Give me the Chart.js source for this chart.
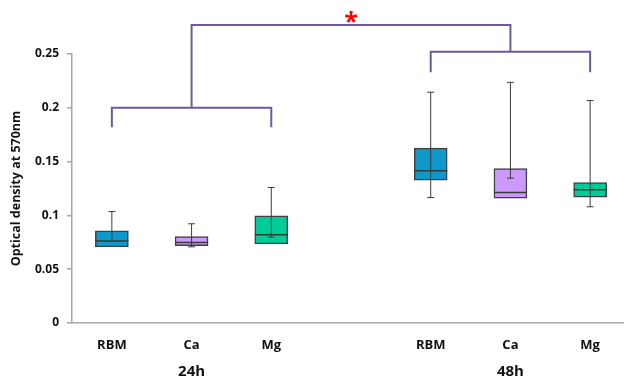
<!DOCTYPE html>
<html>
<head>
<meta charset="utf-8">
<script src="https://cdn.jsdelivr.net/npm/chart.js@4"></script>
<style>
  html, body { margin: 0; padding: 0; background: #fff; overflow: hidden; }
  #wrap { width: 624px; height: 379px; overflow: hidden; }
</style>
</head>
<body>
<div id="wrap"><canvas id="myChart" width="630" height="379"></canvas></div>
<script>
// Data
const categories = ['RBM', 'Ca', 'Mg', '', 'RBM', 'Ca', 'Mg'];
const groupLabels = ['24h', '48h'];
const groupCenters = [1, 5];           // category index under which each group label sits
const boxLow = [0.0708, 0.0718, 0.0736, null, 0.1328, 0.1160, 0.1170];
const boxHigh = [0.0857, 0.0804, 0.0996, null, 0.1625, 0.1436, 0.1306];
const medians = [0.0761, 0.0748, 0.0820, null, 0.1414, 0.1213, 0.1238];
const whiskerLow = [0.0758, 0.0708, 0.0798, null, 0.1166, 0.1346, 0.1080];
const whiskerHigh = [0.1036, 0.0922, 0.1259, null, 0.2145, 0.2237, 0.2067];
const boxColors = ['#0f98cb', '#cc99ff', '#00cc99', null, '#0f98cb', '#cc99ff', '#00cc99'];
const yTickValues = [0, 0.05, 0.1, 0.15, 0.2, 0.25];

// significance brackets: from/to category index, bar height, leg ends
const brackets = [
  { from: 0, to: 2, y: 0.200, legFrom: 0.182, legTo: 0.182 },
  { from: 4, to: 6, y: 0.252, legFrom: 0.233, legTo: 0.233 },
  { from: 1, to: 5, y: 0.277, legFrom: 0.200, legTo: 0.252 }
];
const starLabel = { text: '*', at: 3, y: 0.277 };

const boxData = boxLow.map((lo, i) => (lo === null ? null : [lo, boxHigh[i]]));

// draws medians and whiskers on top of the floating bars
const boxExtras = {
  id: 'boxExtras',
  afterDatasetsDraw(chart) {
    const ctx = chart.ctx;
    const y = chart.scales.y;
    const meta = chart.getDatasetMeta(0);
    ctx.save();
    meta.data.forEach((bar, i) => {
      if (medians[i] === null) return;
      const half = bar.width / 2;
      // median
      ctx.strokeStyle = '#383838';
      ctx.lineWidth = 1.5;
      ctx.beginPath();
      ctx.moveTo(bar.x - half, y.getPixelForValue(medians[i]));
      ctx.lineTo(bar.x + half, y.getPixelForValue(medians[i]));
      ctx.stroke();
      // whisker
      const top = y.getPixelForValue(whiskerHigh[i]);
      const bot = y.getPixelForValue(whiskerLow[i]);
      ctx.strokeStyle = '#3c3c3c';
      ctx.lineWidth = 1;
      ctx.beginPath();
      ctx.moveTo(bar.x, top);
      ctx.lineTo(bar.x, bot);
      ctx.moveTo(bar.x - 3.5, top);
      ctx.lineTo(bar.x + 3.5, top);
      ctx.moveTo(bar.x - 3.5, bot);
      ctx.lineTo(bar.x + 3.5, bot);
      ctx.stroke();
    });
    ctx.restore();
  }
};

// brackets, star and group labels
const annotations = {
  id: 'annotations',
  afterDraw(chart) {
    const ctx = chart.ctx;
    const x = chart.scales.x;
    const y = chart.scales.y;
    ctx.save();
    ctx.strokeStyle = '#6f5a98';
    ctx.lineWidth = 2;
    brackets.forEach(b => {
      const x1 = x.getPixelForValue(b.from);
      const x2 = x.getPixelForValue(b.to);
      ctx.beginPath();
      ctx.moveTo(x1, y.getPixelForValue(b.legFrom));
      ctx.lineTo(x1, y.getPixelForValue(b.y));
      ctx.lineTo(x2, y.getPixelForValue(b.y));
      ctx.lineTo(x2, y.getPixelForValue(b.legTo));
      ctx.stroke();
    });
    ctx.fillStyle = '#ff0000';
    ctx.font = 'bold 25px "Open Sans"';
    ctx.textAlign = 'center';
    ctx.textBaseline = 'alphabetic';
    ctx.fillText(starLabel.text, x.getPixelForValue(starLabel.at), y.getPixelForValue(starLabel.y) + 5);

    ctx.fillStyle = '#111';
    ctx.font = 'bold 15px "Open Sans"';
    ctx.textBaseline = 'middle';
    groupLabels.forEach((g, i) => {
      ctx.fillText(g, x.getPixelForValue(groupCenters[i]), chart.scales.x.bottom - 7);
    });
    ctx.restore();
  }
};

const ctx = document.getElementById('myChart').getContext('2d');
const myChart = new Chart(ctx, {
  type: 'bar',
  data: {
    labels: categories,
    datasets: [{
      data: boxData,
      backgroundColor: boxColors,
      borderColor: '#404040',
      borderWidth: 1.5,
      borderSkipped: false,
      barThickness: 33
    }]
  },
  options: {
    responsive: false,
    animation: false,
    layout: { padding: { top: 54, right: 0, left: 0, bottom: 0 } },
    plugins: {
      legend: { display: false },
      tooltip: { enabled: false }
    },
    scales: {
      x: {
        grid: { display: false },
        border: { color: '#a6a6a6', width: 1.5 },
        ticks: {
          color: '#111',
          font: { family: 'Open Sans', weight: 'bold', size: 13 },
          padding: 6,
          maxRotation: 0
        },
        afterFit(scale) { scale.height = 56; }
      },
      y: {
        min: 0,
        max: 0.25,
        afterBuildTicks(scale) {
          scale.ticks = yTickValues.map(v => ({ value: v }));
        },
        grid: { drawOnChartArea: false, tickLength: 5, color: '#a6a6a6', lineWidth: 1.5 },
        border: { color: '#a6a6a6', width: 1.5 },
        ticks: {
          color: '#111',
          font: { family: 'Open Sans', weight: 'bold', size: 12 },
          padding: 8,
          callback: v => String(v)
        },
        title: {
          display: true,
          text: 'Optical density at 570nm',
          color: '#111',
          font: { family: 'Open Sans', weight: 'bold', size: 12.5 },
          padding: { top: 9, bottom: 0 }
        },
        afterFit(scale) { scale.width = 72; }
      }
    }
  },
  plugins: [boxExtras, annotations]
});
</script>
</body>
</html>
